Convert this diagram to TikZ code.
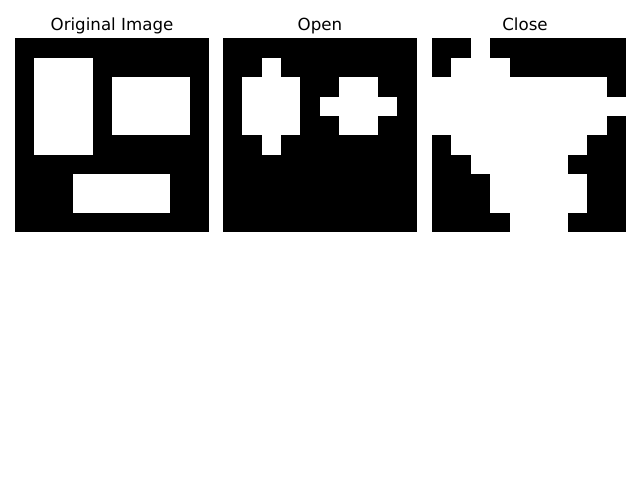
\documentclass[tikz,border=0pt]{standalone}
\usepackage{fontspec}
\setmainfont{DejaVu Sans}
\tikzset{
  ptitle/.style={anchor=base, inner sep=0pt, font=\fontsize{12.5}{15}\selectfont},
  pblack/.style={fill=black},
  pwhite/.style={fill=white},
}
% um painel 10x10: canto superior esquerdo em x, lista de blocos brancos c1/c2/l1/l2
\newcommand{\painel}[2]{%
  \begin{scope}[shift={(#1,441.7)}, x=14.55pt, y=-14.55pt]
    \fill[pblack] (0,0) rectangle (10,10);
    \foreach \ca/\cb/\ra/\rb in {#2}
      \fill[pwhite] (\ca,\ra) rectangle (\cb+1,\rb+1);
  \end{scope}}

\begin{document}
\begin{tikzpicture}[x=0.75pt,y=0.75pt]
  \fill[white] (0,0) rectangle (640,480);
  \useasboundingbox (0,0) rectangle (640,480);

  % imagem original
  \painel{15}{1/3/1/5, 5/8/2/4, 3/7/7/8}
  \node[ptitle] (tOrig) at (112,449.5) {Original Image};

  % abertura
  \painel{222.7}{2/2/1/5, 1/3/2/4, 6/7/2/4, 5/8/3/3}
  \node[ptitle] (tOpen) at (320,449.5) {Open};

  % fechamento
  \painel{432}{2/2/0/0, 1/3/1/1, 0/8/2/2, 0/9/3/3, 0/8/4/4,
               1/7/5/5, 2/6/6/6, 3/7/7/8, 4/6/9/9}
  \node[ptitle] (tClose) at (525,449.5) {Close};

\end{tikzpicture}
\end{document}
